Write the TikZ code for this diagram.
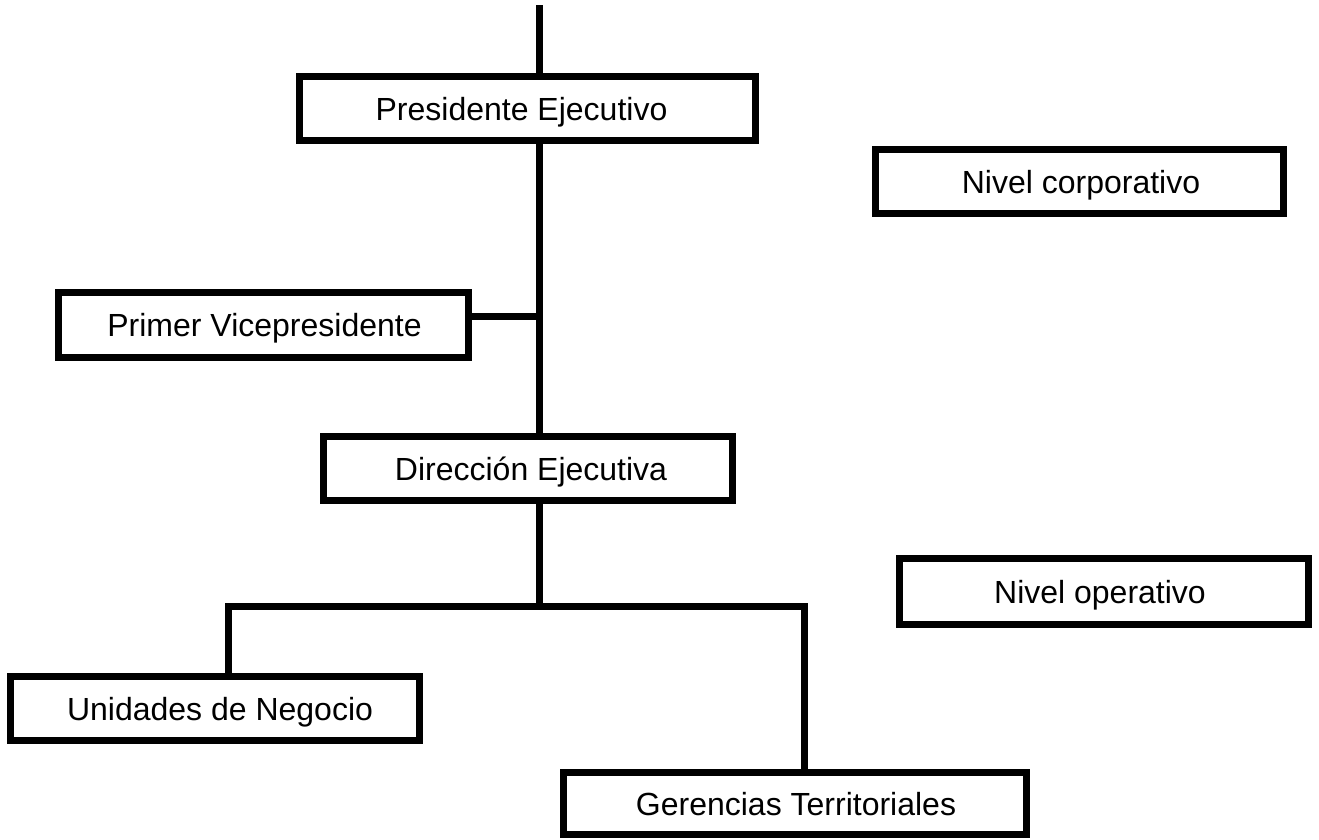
\documentclass[tikz,border=0pt]{standalone}
\usepackage{fontspec}
\setmainfont{Liberation Sans}
\begin{document}
\begin{tikzpicture}[x=1pt,y=-1pt,
  box/.style={draw=black,line width=7pt,fill=white,inner sep=0pt},
  lbl/.style={inner sep=0pt,font=\fontsize{32}{38}\selectfont,
    text height=23pt,text depth=0pt},
  link/.style={draw=black,line width=7pt,line join=miter}]
\useasboundingbox (0,0) rectangle (1319,839);
% frames (size = outer size minus the border width)
\node[box,minimum width=456pt,minimum height=64pt] (pres) at (527.5,108.5) {};
\node[box,minimum width=410pt,minimum height=65pt] (prim) at (263.5,325) {};
\node[box,minimum width=409pt,minimum height=64pt] (dir)  at (528,468.5) {};
\node[box,minimum width=409pt,minimum height=64pt] (unid) at (215,708.5) {};
\node[box,minimum width=463pt,minimum height=62pt] (ger)  at (795,803.5) {};
\node[box,minimum width=408pt,minimum height=64pt] (corp) at (1079.5,181.5) {};
\node[box,minimum width=409pt,minimum height=66pt] (oper) at (1104,591.5) {};
% captions
\node[lbl] (presT) at ([xshift=-6pt]pres.center) {Presidente Ejecutivo};
\node[lbl] (primT) at ([xshift=1pt]prim.center) {Primer Vicepresidente};
\node[lbl] (dirT)  at ([xshift=3pt]dir.center) {Dirección Ejecutiva};
\node[lbl] (unidT) at ([xshift=5pt]unid.center) {Unidades de Negocio};
\node[lbl] (gerT)  at ([xshift=1pt]ger.center) {Gerencias Territoriales};
\node[lbl] (corpT) at ([xshift=1.5pt]corp.center) {Nivel corporativo};
\node[lbl] (operT) at ([xshift=-4pt]oper.center) {Nivel operativo};
% spine and branch points
\coordinate (top) at (539.5,5);
\coordinate (bl) at (228,606);
\coordinate (bm) at (539.5,606);
\coordinate (br) at (804,606);
\coordinate (vp) at (539.5,316.5);
% connectors
\draw[link] (top) -- (top |- pres.north);
\draw[link] (top |- pres.south) -- (top |- dir.north);
\draw[link] (prim.east |- vp) -- (vp);
\draw[link] (bm |- dir.south) -- (bm);
\draw[link] (bl |- unid.north) -- (bl) -- (br) -- (br |- ger.north);
\end{tikzpicture}
\end{document}
